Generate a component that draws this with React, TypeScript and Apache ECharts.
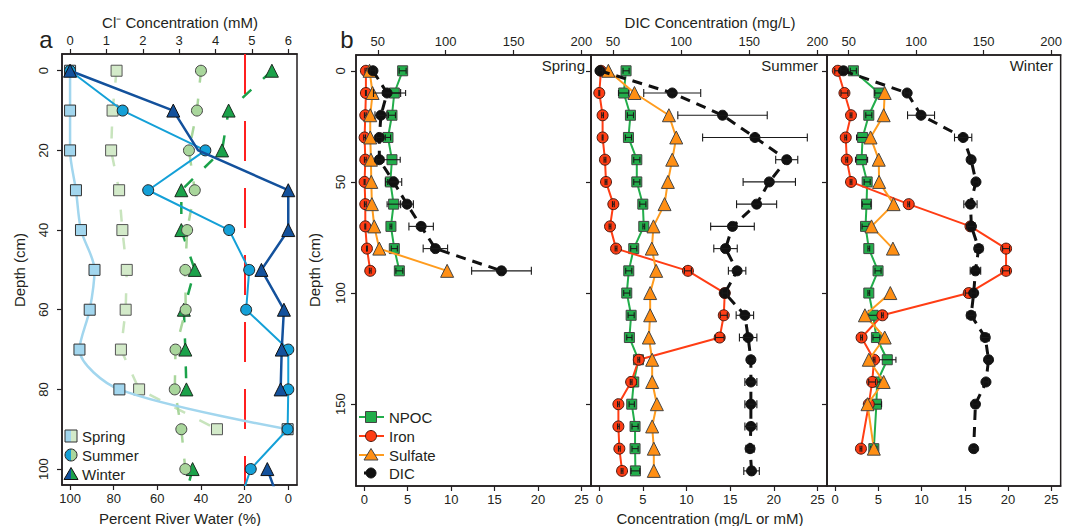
import React, { useEffect, useRef } from "react";
import * as echarts from "echarts";

// ---------------- Panel a data ----------------
const depthA = [0, 10, 20, 30, 40, 50, 60, 70, 80, 90, 100, 110];
const clTicks = [0, 1, 2, 3, 4, 5, 6];
const pctTicks = [0, 20, 40, 60, 80, 100];
const depthTicksA = [0, 20, 40, 60, 80, 100];
const springCl = [1.28, 1.17, 1.13, 1.35, 1.44, 1.56, 1.53, 1.4, 1.9, 4.04, null, null];
const summerCl = [3.6, 3.49, 3.27, 3.43, 3.22, 3.17, 3.18, 2.9, 2.88, 3.06, 3.17, null];
const winterCl = [5.55, 4.36, 4.18, 3.06, 3.06, 3.43, 3.13, 3.17, 3.2, null, 3.37, 3.08];
const springPct = [100, 100, 100, 97.3, 95, 88.8, 91, 95.7, 77.4, 0.3, null, null];
const summerPct = [100, 75.9, 38, 64.2, 27.1, 17.9, 19.3, 0, 0, 0.3, 17.2, 23.4];
const winterPct = [100, 52.7, 41.3, 0, 0, 12.3, 2, 3, 3.5, null, 9.6, 3];
const winterPctNoMarker = [2];
const riverThresholdCl = 4.81;

// ---------------- Panel b data ----------------
const concTicks = [0, 5, 10, 15, 20, 25];
const dicTicks = [50, 100, 150, 200];
const depthTicksB = [0, 50, 100, 150];

const springDepth = [0, 10, 20, 30, 40, 50, 60, 70, 80, 90];
const springNPOC = [4.42, 3.46, 3.19, 2.73, 3.19, 3.0, 3.38, 3.07, 3.46, 4.04];
const springNPOCErr = [0.4, 1.3, 0.4, 0.3, 0.95, 0.3, 0.75, 0.1, 0.35, 0.4];
const springIron = [0.19, 0.19, 0.12, 0.04, 0.12, 0.04, 0.12, 0.12, 0.31, 0.69];
const springIronErr = [0.1, 0.05, 0.1, 0.1, 0.1, 0.05, 0.1, 0.05, 0.05, 0.1];
const springSulfate = [0.61, 0.96, 0.69, 0.69, 0.77, 0.81, 0.88, 1.15, 1.73, 9.54];
const springDIC = [46.4, 56.8, 52.3, 51.1, 51.1, 61.6, 71.5, 81.9, 92.4, 141.1];
const springDICErr = [2, 10, 4.4, 2, 2, 6, 4.7, 9, 9, 22];

const summerDepth = [0, 10, 20, 30, 40, 50, 60, 70, 80, 90, 100, 110, 120, 130, 140, 150, 160, 170, 180];
const summerNPOC = [3.07, 2.8, 3.57, 3.34, 4.3, 4.3, 4.99, 5.1, 3.95, 3.38, 3.15, 3.65, 3.45, 4.49, 3.95, 3.72, 4.1, 4.1, 4.14];
const summerNPOCErr = [0.35, 0.6, 0.35, 0.35, 0.35, 0.35, 0.35, 0.1, 0.35, 0.35, 0.35, 0.35, 0.3, 0.3, 0.3, 0.3, 0.35, 0.35, 0.5];
const summerIron = [0.19, 0.0, 0.38, 0.38, 0.65, 0.77, 1.61, 1.23, 1.92, 10.16, 14.38, 14.27, 13.8, 4.53, 3.65, 2.19, 2.19, 2.3, 2.61];
const summerIronErr = [0.1, 0.05, 0.1, 0.05, 0.1, 0.1, 0.1, 0.1, 0.1, 0.4, 0.4, 0.4, 0.5, 0.1, 0.1, 0.1, 0.1, 0.1, 0.1];
const summerSulfate = [1.04, 4.03, 7.98, 8.82, 8.36, 7.86, 7.48, 6.21, 6.02, 6.52, 5.83, 5.83, 5.68, 6.06, 6.06, 6.6, 6.06, 6.25, 6.25];
const summerDIC = [40.5, 93.5, 130.4, 154.2, 177.5, 164.7, 155.4, 137.7, 132.6, 141.1, 132.1, 146.8, 149.2, 151.2, 151.2, 151.2, 151.2, 150.6, 151.7];
const summerDICErr = [2, 20.9, 32.8, 38.4, 8.1, 19.2, 14.7, 16, 8.6, 6.4, 2, 6.4, 6.4, 2.5, 4.4, 4.4, 4.4, 3, 5.7];

const winterDepth = [0, 10, 20, 30, 40, 50, 60, 70, 80, 90, 100, 110, 120, 130, 140, 150, 170];
const winterNPOC = [2.1, 5.08, 3.89, 3.17, 3.05, 3.7, 3.63, 3.51, 3.89, 4.96, 3.89, 4.39, 4.77, 6.03, 4.85, 4.77, 4.47];
const winterNPOCErr = [0.35, 0.5, 0.35, 0.7, 0.7, 0.35, 0.5, 0.4, 0.1, 0.35, 0.1, 0.6, 0.4, 1.0, 0.35, 0.6, 0.35];
const winterIron = [0.3, 1.07, 1.83, 1.22, 1.34, 1.83, 8.51, 15.66, 19.78, 19.78, 15.46, 5.46, 3.05, 4.5, 4.28, 3.89, 2.98];
const winterIronErr = [0.35, 0.4, 0.1, 0.1, 0.1, 0.1, 0.1, 0.4, 0.4, 0.4, 0.4, 0.1, 0.1, 0.1, 0.4, 0.1, 0.1];
const winterSulfate = [null, 5.73, 5.61, 4.09, 5.04, 5.08, 6.76, 4.2, 6.68, null, 6.38, 3.44, 5.73, 3.89, 5.61, 3.74, 4.47];
const winterDIC = [46.1, 93.3, 103.6, 134.8, 140.7, 144.3, 140.2, 140.9, 146.3, 143.9, 142.6, 140.7, 151.2, 153.6, 151.7, 143.9, 142.6];
const winterDICErr = [2, 2, 10, 6.4, 2, 2, 4.9, 3, 3, 3.9, 2, 3, 3, 2, 2, 2, 2];

const seasons = ["Spring", "Summer", "Winter"];
const legendB = ["NPOC", "Iron", "Sulfate", "DIC"];

// ---------------- styling ----------------
const FONT = '"Liberation Sans", Arial, sans-serif';
const TXT = "#231f20";
const C = {
  springBlue: "#a2d6ee",
  summerBlue: "#14a0d7",
  winterBlue: "#13519c",
  springGreen: "#d3eac9",
  summerGreen: "#a9d69c",
  winterGreen: "#1ba24a",
  red: "#ff1f1f",
  npoc: "#22ae4b",
  iron: "#ff3d14",
  sulfate: "#ff8f14",
  sulfateLine: "#ff9c1e",
  dic: "#111111",
};

function xAx(grid: number, pos: string, min: number, max: number, ticks: number[], inverse = false) {
  return {
    type: "value",
    gridIndex: grid,
    position: pos,
    min,
    max,
    inverse,
    axisLine: { show: true, onZero: false, lineStyle: { color: TXT, width: 1.5 } },
    axisTick: { show: true, inside: false, length: 5, customValues: ticks, lineStyle: { color: TXT, width: 1.2 } },
    axisLabel: { show: true, customValues: ticks, margin: 7, color: TXT, fontSize: 13, fontFamily: FONT },
    splitLine: { show: false },
  };
}

function yAx(grid: number, min: number, max: number, ticks: number[], showLabel: boolean, margin: number) {
  return {
    type: "value",
    gridIndex: grid,
    position: "left",
    inverse: true,
    min,
    max,
    axisLine: { show: true, onZero: false, lineStyle: { color: TXT, width: 1.5 } },
    axisTick: { show: true, inside: false, length: 5, customValues: ticks, lineStyle: { color: TXT, width: 1.2 } },
    axisLabel: { show: showLabel, customValues: ticks, rotate: 90, margin, color: TXT, fontSize: 13, fontFamily: FONT },
    splitLine: { show: false },
  };
}

function pts(xs: (number | null)[], ys: number[], hidden: number[] = []) {
  return ys.map((y, i) => {
    const x = xs[i];
    if (x === null || x === undefined) return ["-", y];
    if (hidden.indexOf(i) >= 0) return { value: [x, y], symbol: "none" };
    return [x, y];
  });
}

function lineS(
  xIdx: number,
  yIdx: number,
  xs: (number | null)[],
  ys: number[],
  symbol: string,
  size: number,
  fill: string,
  border: string,
  lineColor: string,
  lineWidth: number,
  lineType: any,
  z: number,
  extra: any = {}
) {
  return {
    type: "line",
    xAxisIndex: xIdx,
    yAxisIndex: yIdx,
    data: pts(xs, ys, extra.hidden || []),
    symbol,
    symbolSize: size,
    showAllSymbol: true,
    connectNulls: false,
    smooth: extra.smooth || false,
    z,
    silent: true,
    clip: true,
    itemStyle: { color: fill, borderColor: border, borderWidth: 1, opacity: 1 },
    lineStyle: { color: lineColor, width: lineWidth, type: lineType },
    emphasis: { disabled: true },
    ...(extra.markLine ? { markLine: extra.markLine } : {}),
  };
}

function errS(xIdx: number, yIdx: number, xs: (number | null)[], errs: number[], ys: number[], z: number, cap: number) {
  const data: number[][] = [];
  xs.forEach((x, i) => {
    if (x === null || x === undefined || errs[i] == null) return;
    data.push([x - errs[i], x + errs[i], ys[i]]);
  });
  return {
    type: "custom",
    xAxisIndex: xIdx,
    yAxisIndex: yIdx,
    z,
    silent: true,
    clip: true,
    encode: { x: [0, 1], y: 2 },
    data,
    renderItem: (_p: any, api: any) => {
      const y = api.value(2);
      const a = api.coord([api.value(0), y]);
      const b = api.coord([api.value(1), y]);
      const st = { stroke: "#1a1a1a", lineWidth: 1.1, fill: "none" };
      return {
        type: "group",
        children: [
          { type: "line", shape: { x1: a[0], y1: a[1], x2: b[0], y2: b[1] }, style: st },
          { type: "line", shape: { x1: a[0], y1: a[1] - cap, x2: a[0], y2: a[1] + cap }, style: st },
          { type: "line", shape: { x1: b[0], y1: b[1] - cap, x2: b[0], y2: b[1] + cap }, style: st },
        ],
      };
    },
  };
}

function txt(text: string, x: number, y: number, size: number, align = "center", rotation = 0, vAlign = "middle") {
  return {
    type: "text",
    x,
    y,
    rotation,
    silent: true,
    z: 100,
    style: { text, fill: TXT, font: `${size}px ${FONT}`, textAlign: align, textVerticalAlign: vAlign },
  };
}

function buildOption() {
  const CONC_MIN = -0.95;
  const CONC_MAX = 26.1;
  const DIC_MIN = 40 + 6.4 * CONC_MIN;
  const DIC_MAX = 40 + 6.4 * CONC_MAX;
  const DB_MIN = -7.1;
  const DB_MAX = 186.8;

  const grids = [
    { left: 62, top: 54, width: 235, height: 431 },
    { left: 356, top: 55, width: 235, height: 431 },
    { left: 591, top: 55, width: 236, height: 431 },
    { left: 827, top: 55, width: 235, height: 431 },
  ].map((g) => ({ ...g, show: true, borderColor: TXT, borderWidth: 1.5, backgroundColor: "transparent", containLabel: false }));

  const xAxis: any[] = [
    xAx(0, "top", -0.22, 6.24, clTicks),
    xAx(0, "bottom", -4.0, 103.7, pctTicks, true),
  ];
  const yAxis: any[] = [yAx(0, -4.2, 104, depthTicksA, true, 12)];
  for (let g = 1; g <= 3; g++) {
    xAxis.push(xAx(g, "bottom", CONC_MIN, CONC_MAX, concTicks));
    xAxis.push(xAx(g, "top", DIC_MIN, DIC_MAX, dicTicks));
    yAxis.push(yAx(g, DB_MIN, DB_MAX, depthTicksB, g === 1, 9));
  }

  const series: any[] = [];
  // Panel a
  series.push(
    lineS(0, 0, springCl, depthA, "rect", 11, C.springGreen, "#555", "#c8e4bd", 2.5, [12, 16], 2, {
      markLine: {
        silent: true,
        symbol: ["none", "none"],
        label: { show: false },
        lineStyle: { color: C.red, width: 2, type: [40, 27] },
        data: [{ xAxis: riverThresholdCl }],
        z: 1,
      },
    })
  );
  series.push(lineS(0, 0, winterCl, depthA, "triangle", 13, C.winterGreen, "#1d2b20", C.winterGreen, 2.5, [12, 16], 3));
  series.push(lineS(0, 0, summerCl, depthA, "circle", 11, C.summerGreen, "#444", C.summerGreen, 2.5, [12, 16], 4));
  series.push(lineS(1, 0, springPct, depthA, "rect", 11, C.springBlue, "#333", C.springBlue, 2.5, "solid", 5, { smooth: 0.3 }));
  series.push(lineS(1, 0, summerPct, depthA, "circle", 11, C.summerBlue, "#222", C.summerBlue, 2, "solid", 6));
  series.push(lineS(1, 0, winterPct, depthA, "triangle", 13, C.winterBlue, "#111", C.winterBlue, 2.5, "solid", 7, { hidden: winterPctNoMarker }));

  // Panel b
  const sets = [
    [springDepth, springNPOC, springNPOCErr, springIron, springIronErr, springSulfate, springDIC, springDICErr],
    [summerDepth, summerNPOC, summerNPOCErr, summerIron, summerIronErr, summerSulfate, summerDIC, summerDICErr],
    [winterDepth, winterNPOC, winterNPOCErr, winterIron, winterIronErr, winterSulfate, winterDIC, winterDICErr],
  ] as any[];
  sets.forEach((s, i) => {
    const g = i + 1;
    const cx = 2 + 2 * i;
    const dx = 3 + 2 * i;
    const [dep, npoc, npocE, iron, ironE, sulf, dic, dicE] = s;
    series.push(lineS(cx, g, npoc, dep, "rect", 10, C.npoc, "#444", C.npoc, 2, "solid", 3));
    series.push(errS(cx, g, npoc, npocE, dep, 4, 3));
    series.push(lineS(cx, g, iron, dep, "circle", 11, C.iron, "#4a1a10", C.iron, 2, "solid", 5));
    series.push(errS(cx, g, iron, ironE, dep, 6, 3));
    series.push(lineS(cx, g, sulf, dep, "triangle", 13, C.sulfate, "#444", C.sulfateLine, 2, "solid", 7));
    series.push(lineS(dx, g, dic, dep, "circle", 10, C.dic, C.dic, C.dic, 3, [10, 7], 8));
    series.push(errS(dx, g, dic, dicE, dep, 9, 4));
  });

  // Graphic texts & legends
  const graphic: any[] = [
    txt("a", 46, 39, 24),
    txt("b", 347, 39, 24),
    txt("Cl\u207B Concentration (mM)", 180, 22, 15),
    txt("DIC Concentration (mg/L)", 710, 22, 15),
    txt("Percent River Water (%)", 180, 518, 15),
    txt("Concentration (mg/L or mM)", 710, 518, 15),
    txt("Depth (cm)", 19, 270, 15, "center", Math.PI / 2),
    txt("Depth (cm)", 314, 270, 15, "center", Math.PI / 2),
    txt(seasons[0], 585, 65, 15, "right"),
    txt(seasons[1], 818, 65, 15, "right"),
    txt(seasons[2], 1053, 65, 15, "right"),
  ];

  // Panel a legend (half blue / half green symbols)
  const la = [
    { y: 436, label: seasons[0] },
    { y: 455, label: seasons[1] },
    { y: 474, label: seasons[2] },
  ];
  const lx = 71;
  // Spring square
  graphic.push({ type: "rect", silent: true, z: 100, shape: { x: lx - 6, y: la[0].y - 6, width: 6, height: 12 }, style: { fill: C.springBlue } });
  graphic.push({ type: "rect", silent: true, z: 100, shape: { x: lx, y: la[0].y - 6, width: 6, height: 12 }, style: { fill: C.springGreen } });
  graphic.push({ type: "rect", silent: true, z: 101, shape: { x: lx - 6, y: la[0].y - 6, width: 12, height: 12 }, style: { fill: "none", stroke: "#333", lineWidth: 1 } });
  // Summer circle
  graphic.push({ type: "sector", silent: true, z: 100, shape: { cx: lx, cy: la[1].y, r: 6, r0: 0, startAngle: Math.PI / 2, endAngle: (3 * Math.PI) / 2, clockwise: true }, style: { fill: C.summerBlue } });
  graphic.push({ type: "sector", silent: true, z: 100, shape: { cx: lx, cy: la[1].y, r: 6, r0: 0, startAngle: -Math.PI / 2, endAngle: Math.PI / 2, clockwise: true }, style: { fill: C.summerGreen } });
  graphic.push({ type: "circle", silent: true, z: 101, shape: { cx: lx, cy: la[1].y, r: 6 }, style: { fill: "none", stroke: "#222", lineWidth: 1 } });
  // Winter triangle
  const ty = la[2].y;
  graphic.push({ type: "polygon", silent: true, z: 100, shape: { points: [[lx, ty - 6.5], [lx, ty + 5.5], [lx - 7, ty + 5.5]] }, style: { fill: C.winterBlue } });
  graphic.push({ type: "polygon", silent: true, z: 100, shape: { points: [[lx, ty - 6.5], [lx + 7, ty + 5.5], [lx, ty + 5.5]] }, style: { fill: C.winterGreen } });
  graphic.push({ type: "polygon", silent: true, z: 101, shape: { points: [[lx, ty - 6.5], [lx + 7, ty + 5.5], [lx - 7, ty + 5.5]] }, style: { fill: "none", stroke: "#111", lineWidth: 1 } });
  la.forEach((l) => graphic.push(txt(l.label, 82, l.y, 15, "left")));

  // Panel b legend
  const lbx = 371;
  const lby = [417, 436, 455, 473];
  graphic.push({ type: "line", silent: true, z: 100, shape: { x1: 359, y1: lby[0], x2: 384, y2: lby[0] }, style: { stroke: C.npoc, lineWidth: 2 } });
  graphic.push({ type: "rect", silent: true, z: 101, shape: { x: lbx - 5.5, y: lby[0] - 5.5, width: 11, height: 11 }, style: { fill: C.npoc, stroke: "#444", lineWidth: 1 } });
  graphic.push({ type: "line", silent: true, z: 100, shape: { x1: 359, y1: lby[1], x2: 384, y2: lby[1] }, style: { stroke: C.iron, lineWidth: 2 } });
  graphic.push({ type: "circle", silent: true, z: 101, shape: { cx: lbx, cy: lby[1], r: 5.5 }, style: { fill: C.iron, stroke: "#4a1a10", lineWidth: 1 } });
  graphic.push({ type: "line", silent: true, z: 100, shape: { x1: 359, y1: lby[2], x2: 384, y2: lby[2] }, style: { stroke: C.sulfateLine, lineWidth: 2 } });
  graphic.push({ type: "polygon", silent: true, z: 101, shape: { points: [[lbx, lby[2] - 6.5], [lbx + 7, lby[2] + 5], [lbx - 7, lby[2] + 5]] }, style: { fill: C.sulfate, stroke: "#444", lineWidth: 1 } });
  graphic.push({ type: "line", silent: true, z: 100, shape: { x1: 364, y1: lby[3], x2: 369, y2: lby[3] }, style: { stroke: C.dic, lineWidth: 3 } });
  graphic.push({ type: "circle", silent: true, z: 101, shape: { cx: lbx, cy: lby[3], r: 5 }, style: { fill: C.dic, stroke: C.dic, lineWidth: 1 } });
  legendB.forEach((name, i) => graphic.push(txt(name, 389, lby[i], 15, "left")));

  return {
    animation: false,
    backgroundColor: "#ffffff",
    textStyle: { fontFamily: FONT },
    grid: grids,
    xAxis,
    yAxis,
    series,
    graphic,
  };
}

export default function App() {
  const ref = useRef<HTMLDivElement>(null);
  useEffect(() => {
    if (!ref.current) return;
    const chart = echarts.init(ref.current, null, { renderer: "svg" });
    chart.setOption(buildOption() as any);
    return () => chart.dispose();
  }, []);
  return (
    <div
      ref={ref}
      style={{ position: "fixed", left: 0, top: 0, width: 1065, height: 526, background: "#fff" }}
    />
  );
}
